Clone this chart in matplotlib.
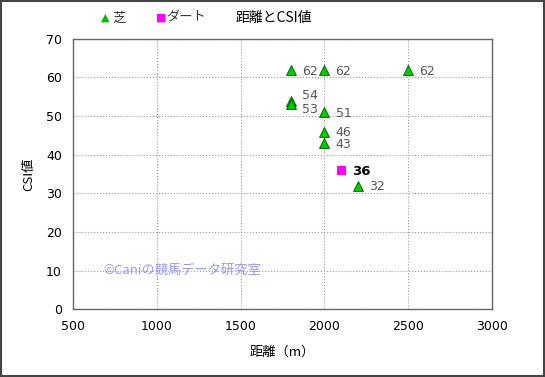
import matplotlib
matplotlib.use('Agg')
from matplotlib import pyplot as plt
from matplotlib.patches import Rectangle

plt.rcParams['font.family'] = ['Noto Sans CJK JP', 'DejaVu Sans']

# data
turf_dist = [1800, 2000, 2500, 1800, 1800, 2000, 2000, 2000, 2200]
turf_csi = [62, 62, 62, 54, 53, 51, 46, 43, 32]
dirt_dist = [2100]
dirt_csi = [36]

fig = plt.figure(figsize=(5.45, 3.77), dpi=100)
ax = fig.add_axes([0.134, 0.180, 0.769, 0.717])

ax.scatter(turf_dist, turf_csi, marker='^', s=50, c='#00cc00', edgecolors='#006600',
           linewidths=0.7, zorder=3)
ax.scatter(dirt_dist, dirt_csi, marker='s', s=42, c='#ff00ff', edgecolors='none', zorder=3)

for x, y in zip(turf_dist, turf_csi):
    dy = 0
    if y == 54:
        dy = 1.6
    elif y == 53:
        dy = -0.9
    ax.annotate(str(y), (x, y + dy), xytext=(8, -1), textcoords='offset points',
                va='center', ha='left', fontsize=9, color='#555555',
                family=['DejaVu Sans'])
for x, y in zip(dirt_dist, dirt_csi):
    ax.annotate(str(y), (x, y), xytext=(8, -1), textcoords='offset points',
                va='center', ha='left', fontsize=9.5, color='black',
                fontweight='bold', family=['DejaVu Sans'])

ax.set_xlim(500, 3000)
ax.set_ylim(0, 70)
ax.set_xticks(range(500, 3001, 500))
ax.set_yticks(range(0, 71, 10))
ax.tick_params(labelsize=9, length=0, pad=8)
for lab in ax.get_xticklabels() + ax.get_yticklabels():
    lab.set_family(['DejaVu Sans'])
ax.grid(True, color='#999999', linestyle=':', linewidth=0.8)
for s in ax.spines.values():
    s.set_color('#666666')
    s.set_linewidth(1.0)

ax.set_xlabel('距離（m）', fontsize=9.5, labelpad=9)
ax.set_ylabel('CSI値', fontsize=9.5, labelpad=8)

ax.text(680, 10, '©Caniの競馬データ研究室', fontsize=9.5, color='#9999ee', va='center')

fig.text(0.503, 0.952, '距離とCSI値', ha='center', va='center', fontsize=10)

# legend
fig.text(0.186, 0.952, '▲', color='#00bb00', ha='left', va='center', fontsize=8,
         family=['DejaVu Sans'])
fig.text(0.206, 0.952, '芝', ha='left', va='center', fontsize=9.5, color='#333333')
fig.text(0.287, 0.952, '■', color='#ff00ff', ha='left', va='center', fontsize=8,
         family=['DejaVu Sans'])
fig.text(0.305, 0.952, 'ダート', ha='left', va='center', fontsize=9.5, color='#333333')

fig.patches.append(Rectangle((0.002, 0.003), 0.996, 0.994, transform=fig.transFigure,
                             fill=False, edgecolor='#444444', linewidth=1.5))

fig.savefig('out.png', dpi=100)
